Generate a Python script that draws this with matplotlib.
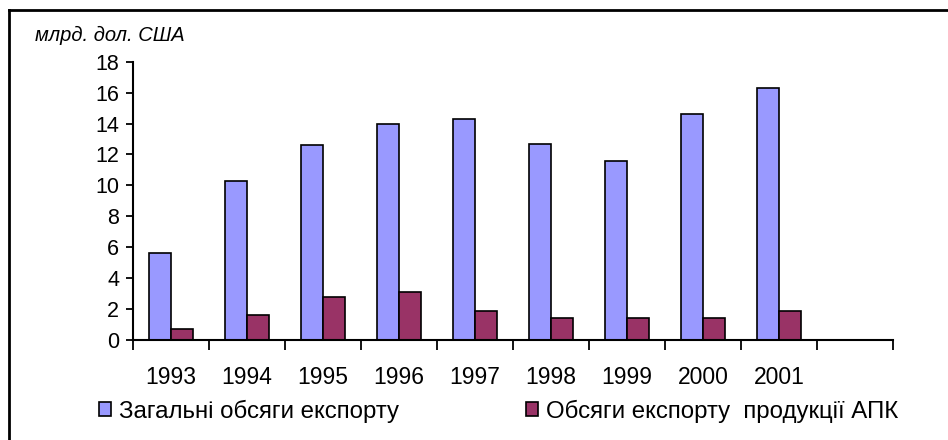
import matplotlib
matplotlib.use("Agg")
import matplotlib.pyplot as plt
from matplotlib.lines import Line2D
import numpy as np

plt.rcParams['font.family'] = ['Liberation Sans', 'DejaVu Sans']

years = ['1993', '1994', '1995', '1996', '1997', '1998', '1999', '2000', '2001']
total_export = [5.6, 10.3, 12.6, 14.0, 14.3, 12.7, 11.6, 14.6, 16.3]
agro_export = [0.7, 1.6, 2.8, 3.1, 1.9, 1.4, 1.4, 1.4, 1.9]
series_labels = ['Загальні обсяги експорту', 'Обсяги експорту  продукції АПК']
y_label = 'млрд. дол. США'
n_slots = 10

W, H = 948, 440
fig = plt.figure(figsize=(W / 100, H / 100), dpi=100)

def px(x0, y0, x1, y1):
    return [x0 / W, 1 - y1 / H, (x1 - x0) / W, (y1 - y0) / H]

ax = fig.add_axes(px(133, 61.7, 893, 340))

x = np.arange(len(years))
bw = 0.29
b1 = ax.bar(x - bw / 2, total_export, bw, color='#9999FF', edgecolor='black', linewidth=1.2)
b2 = ax.bar(x + bw / 2, agro_export, bw, color='#993366', edgecolor='black', linewidth=1.2)

ax.set_xlim(-0.5, n_slots - 0.5)
ax.set_ylim(0, 18)
ax.set_yticks(np.arange(0, 19, 2))
ax.tick_params(axis='y', direction='out', length=5, width=1.3, labelsize=15.5, pad=5)

ax.set_xticks(np.arange(-0.5, n_slots, 1))
ax.set_xticklabels([])
ax.tick_params(axis='x', which='major', direction='out', length=7, width=1.3)
ax.set_xticks(x, minor=True)
ax.set_xticklabels(years, minor=True)
ax.tick_params(axis='x', which='minor', length=0, labelsize=16.5, pad=19)

for s in ['top', 'right']:
    ax.spines[s].set_visible(False)
for s in ['left', 'bottom']:
    ax.spines[s].set_linewidth(1.5)

fig.text(35 / W, 1 - 35 / H, y_label, fontsize=14.5, style='italic', va='center', ha='left')

leg_kw = dict(frameon=False, handlelength=0.5, handleheight=0.5, handletextpad=0.35,
              fontsize=17.3, loc='center left', borderaxespad=0, borderpad=0)
fig.legend([b1], [series_labels[0]], bbox_to_anchor=(99 / W, 1 - 411 / H), **leg_kw)
fig.legend([b2], [series_labels[1]], bbox_to_anchor=(526 / W, 1 - 411 / H), **leg_kw)

fig.add_artist(Line2D([9 / W, 1], [1 - 10 / H, 1 - 10 / H], color='black', linewidth=2))
fig.add_artist(Line2D([9 / W, 9 / W], [0, 1 - 10 / H], color='black', linewidth=2))

fig.savefig('out.png', dpi=100)
